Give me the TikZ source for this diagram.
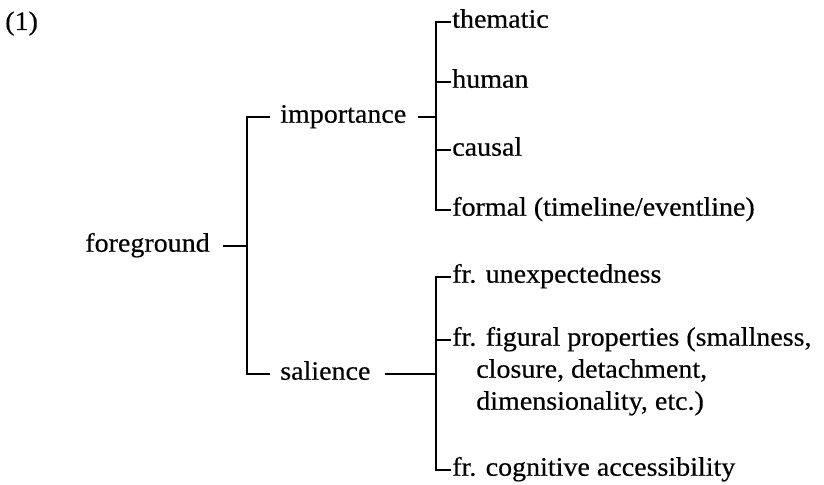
\documentclass[tikz,border=0pt]{standalone}
\usepackage{fontspec}
\setmainfont[FakeStretch=1.05,FakeBold=0.4]{Liberation Serif}
\usetikzlibrary{calc}
\begin{document}
\begin{tikzpicture}[x=0.75pt,y=-0.75pt,
  lbl/.style={inner sep=0pt,text height=8.6pt,text depth=0pt,font=\fontsize{20pt}{24pt}\selectfont},
  conn/.style={draw=black,line width=0.8pt}]
\useasboundingbox (0,0) rectangle (824,485);
\node[inner sep=0pt,anchor=base west,font=\fontsize{20pt}{24pt}\selectfont] (num) at (5,30) {(1)};
% level 3 (importance)
\node[lbl,anchor=west] (thematic) at (452,22) {thematic};
\node[lbl,anchor=west] (human) at (452,82) {human};
\node[lbl,anchor=west] (causal) at (452,150) {causal};
\node[lbl,anchor=west] (formal) at (452,210) {formal (timeline/eventline)};
% level 3 (salience)
\node[lbl,anchor=west] (unexp) at (452,277) {fr. unexpectedness};
\node[lbl,anchor=west] (figural) at (452,340) {fr. figural properties (smallness,};
\node[lbl,anchor=west] (closure) at (476,372) {closure, detachment,};
\node[lbl,anchor=west] (dimens) at (476,404) {dimensionality, etc.)};
\node[lbl,anchor=west] (cognitive) at (452,470) {fr. cognitive accessibility};
% level 2
\node[lbl,anchor=west] (importance) at (280,117) {importance};
\node[lbl,anchor=west] (salience) at (280,374) {salience};
% level 1
\node[lbl,anchor=east] (foreground) at (210,246) {foreground};
% connectors: foreground
\draw[conn] ($(importance.west)+(-10,0)$) -- ++(-23,0) coordinate (L) |- ($(salience.west)+(-10,0)$);
\draw[conn] ($(foreground.east)+(13,0)$) -- (foreground.east -| L);
% connectors: importance
\draw[conn] ($(thematic.west)+(-1.5,0)$) -- ++(-14.5,0) coordinate (B1) -- (B1 |- formal.west) -- ($(formal.west)+(-1.5,0)$);
\draw[conn] ($(human.west)+(-1.5,0)$) -- (human.west -| B1);
\draw[conn] ($(causal.west)+(-1.5,0)$) -- (causal.west -| B1);
\draw[conn] ($(importance.east)+(12,0)$) -- (importance.east -| B1);
% connectors: salience
\draw[conn] ($(unexp.west)+(-1.5,0)$) -- ++(-14.5,0) coordinate (B2) -- (B2 |- cognitive.west) -- ($(cognitive.west)+(-1.5,0)$);
\draw[conn] ($(figural.west)+(-1.5,0)$) -- (figural.west -| B2);
\draw[conn] ($(salience.east)+(14,0)$) -- (salience.east -| B2);
\end{tikzpicture}
\end{document}
